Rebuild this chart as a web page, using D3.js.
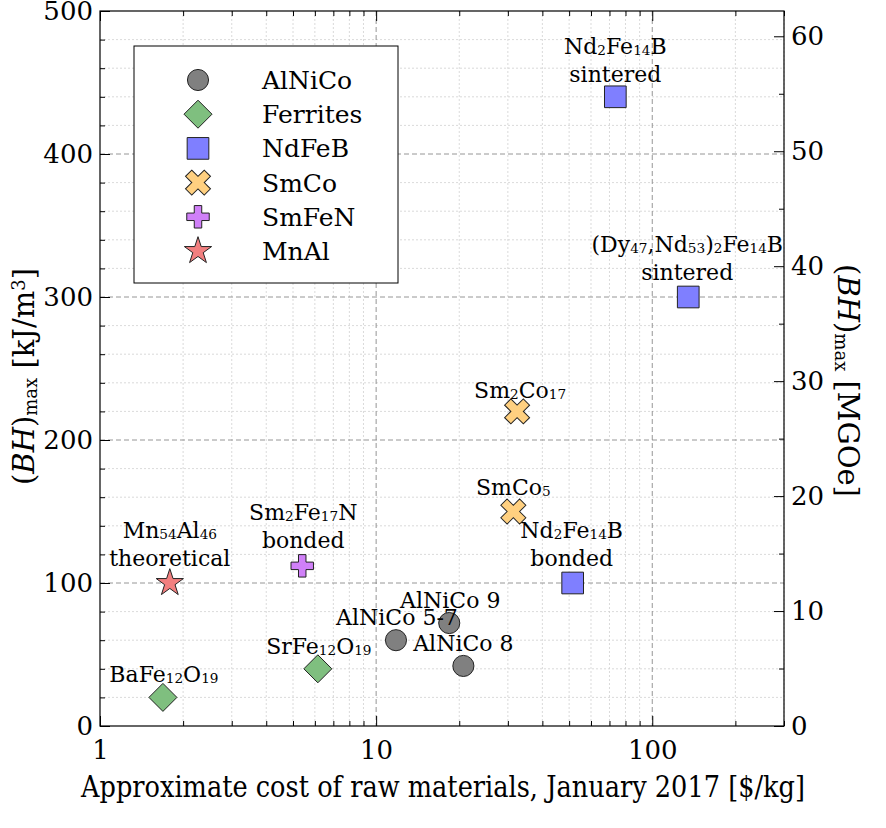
<!DOCTYPE html>
<html>
<head>
<meta charset="utf-8">
<script src="https://cdn.jsdelivr.net/npm/d3@7"></script>
<style>
body { margin: 0; background: #fff; }
text { font-family: "DejaVu Serif", "Liberation Serif", serif; fill: #000; }
</style>
</head>
<body>
<svg id="chart" width="886" height="828"></svg>
<script>
// magnet families (legend order)
const families = ["AlNiCo", "Ferrites", "NdFeB", "SmCo", "SmFeN", "MnAl"];
const familyColors = ["#808080", "#7fbf7f", "#7f7fff", "#ffd080", "#d080f8", "#f27f7f"];
const familySymbols = ["circle", "diamond", "square", "cross", "plus", "star"];

// one entry per material point
const pointNames = ["AlNiCo 5-7", "AlNiCo 9", "AlNiCo 8", "BaFe_{12}O_{19}", "SrFe_{12}O_{19}",
    "Nd_{2}Fe_{14}B|sintered", "(Dy_{47},Nd_{53})_{2}Fe_{14}B|sintered", "Nd_{2}Fe_{14}B|bonded",
    "Sm_{2}Co_{17}", "SmCo_{5}", "Sm_{2}Fe_{17}N|bonded", "Mn_{54}Al_{46}|theoretical"];
const pointFamily = [0, 0, 0, 1, 1, 2, 2, 2, 3, 3, 4, 5];
const pointCost = [11.8, 18.4, 20.7, 1.69, 6.15, 73.5, 135, 51.5, 32.4, 31.4, 5.4, 1.79];
const pointBH = [60, 72, 42, 20, 40, 440, 300, 100, 220, 150, 112, 100];
// label placement relative to marker, px [dx, dy of last baseline]
const labelOffsets = [[1, -15], [1, -15], [0, -15], [1, -15], [1, -15], [0, -15], [-1, -17], [-1, -17],
    [3, -13], [0, -17], [1, -18], [0, -17]];

const xTickValues = [1, 10, 100];
const yTickValues = [0, 100, 200, 300, 400, 500];
const y2TickValues = [0, 10, 20, 30, 40, 50, 60];

const svg = d3.select("#chart");
const margin = {top: 11, right: 102, bottom: 102, left: 100};
const W = 886, H = 828;
const width = W - margin.left - margin.right, height = H - margin.top - margin.bottom;
const g = svg.append("g").attr("transform", `translate(${margin.left},${margin.top})`);

const x = d3.scaleLog().domain([1, 300]).range([0, width]);
const y = d3.scaleLinear().domain([0, 500]).range([height, 0]);
const y2 = d3.scaleLinear().domain([0, 62.2]).range([height, 0]);

// minor tick values
const xMinor = [];
[1, 10, 100].forEach(d => { for (let k = 2; k <= 9; k++) if (d * k <= 300) xMinor.push(d * k); });
const yMinor = d3.range(20, 500, 20).filter(v => v % 100 !== 0);
const y2Minor = d3.range(5, 62, 10);

// grid
const grid = g.append("g");
grid.selectAll(".xm").data(xMinor).join("line")
    .attr("x1", d => x(d)).attr("x2", d => x(d)).attr("y1", 0).attr("y2", height)
    .attr("stroke", "#d0d0d0").attr("stroke-width", 0.8).attr("stroke-dasharray", "2,2");
grid.selectAll(".ym").data(yMinor).join("line")
    .attr("y1", d => y(d)).attr("y2", d => y(d)).attr("x1", 0).attr("x2", width)
    .attr("stroke", "#d0d0d0").attr("stroke-width", 0.8).attr("stroke-dasharray", "2,2");
grid.selectAll(".xM").data([10, 100]).join("line")
    .attr("x1", d => x(d)).attr("x2", d => x(d)).attr("y1", 0).attr("y2", height)
    .attr("stroke", "#8a8a8a").attr("stroke-width", 0.9).attr("stroke-dasharray", "5,3");
grid.selectAll(".yM").data([100, 200, 300, 400]).join("line")
    .attr("y1", d => y(d)).attr("y2", d => y(d)).attr("x1", 0).attr("x2", width)
    .attr("stroke", "#8a8a8a").attr("stroke-width", 0.9).attr("stroke-dasharray", "5,3");

// axes, ticks pointing inward
const fs = 26;
const gx = g.append("g").attr("transform", `translate(0,${height})`)
    .call(d3.axisBottom(x).tickValues(xTickValues).tickFormat(d3.format("d")).tickSize(-10));
const gxm = g.append("g").attr("transform", `translate(0,${height})`)
    .call(d3.axisBottom(x).tickValues(xMinor).tickFormat("").tickSize(-5));
const gxt = g.append("g")
    .call(d3.axisTop(x).tickValues(xTickValues).tickFormat("").tickSize(-10));
const gxtm = g.append("g")
    .call(d3.axisTop(x).tickValues(xMinor).tickFormat("").tickSize(-5));
const gy = g.append("g")
    .call(d3.axisLeft(y).tickValues(yTickValues).tickSize(-10).tickPadding(7));
const gym = g.append("g")
    .call(d3.axisLeft(y).tickValues(yMinor).tickFormat("").tickSize(-5));
const gy2 = g.append("g").attr("transform", `translate(${width},0)`)
    .call(d3.axisRight(y2).tickValues(y2TickValues).tickSize(-10).tickPadding(7));
const gy2m = g.append("g").attr("transform", `translate(${width},0)`)
    .call(d3.axisRight(y2).tickValues(y2Minor).tickFormat("").tickSize(-5));
[gx, gxm, gxt, gxtm, gy, gym, gy2, gy2m].forEach(a => {
    a.select(".domain").remove();
    a.selectAll("line").attr("stroke", "#000").attr("stroke-width", 1);
    a.selectAll("text").attr("font-size", fs).attr("font-family", "DejaVu Serif");
});
gx.selectAll("text").attr("y", 33).attr("dy", 0);

g.append("rect").attr("width", width).attr("height", height)
    .attr("fill", "none").attr("stroke", "#000").attr("stroke-width", 1.2);

// text with _{sub} parts
function richText(sel, str, size) {
    const parts = str.split(/(_\{[^}]*\})/).filter(s => s.length);
    parts.forEach(p => {
        if (p.startsWith("_{")) {
            sel.append("tspan").text(p.slice(2, -1)).attr("font-size", size * 0.62)
                .attr("baseline-shift", "-0.1em");
        } else {
            sel.append("tspan").text(p).attr("font-size", size);
        }
    });
}

// markers
function markerPath(name) {
    if (name === "diamond") {
        const r = 14;
        return `M0,${-r}L${r},0L0,${r}L${-r},0Z`;
    }
    if (name === "cross") return d3.symbol().type(d3.symbolCross).size(390)();
    if (name === "plus") return d3.symbol().type(d3.symbolCross).size(280)();
    if (name === "circle") return d3.symbol().type(d3.symbolCircle).size(350)();
    if (name === "square") return d3.symbol().type(d3.symbolSquare).size(470)();
    return d3.symbol().type(d3.symbolStar).size(230)();
}
function drawMarker(parent, fam, cx, cy) {
    const name = familySymbols[fam];
    parent.append("path").attr("d", markerPath(name))
        .attr("transform", `translate(${cx},${cy})` + (name === "cross" ? " rotate(45)" : ""))
        .attr("fill", familyColors[fam]).attr("stroke", "#222").attr("stroke-width", 1);
}

const pts = g.append("g");
pointCost.forEach((c, i) => drawMarker(pts, pointFamily[i], x(c), y(pointBH[i])));

// point labels
const lfs = 22;
const labels = g.append("g");
pointNames.forEach((nm, i) => {
    const lines = nm.split("|");
    const cx = x(pointCost[i]) + labelOffsets[i][0];
    const base = y(pointBH[i]) + labelOffsets[i][1];
    lines.forEach((ln, j) => {
        const t = labels.append("text").attr("x", cx)
            .attr("y", base - (lines.length - 1 - j) * 28)
            .attr("text-anchor", "middle");
        richText(t, ln, lfs);
    });
});

// legend
const leg = svg.append("g").attr("transform", "translate(134,46)");
leg.append("rect").attr("width", 264).attr("height", 237)
    .attr("fill", "#fff").attr("stroke", "#000").attr("stroke-width", 1);
families.forEach((f, i) => {
    const ly = 34 + i * 34.2;
    drawMarker(leg, i, 64, ly);
    leg.append("text").attr("x", 128).attr("y", ly).attr("dy", "0.36em")
        .attr("font-size", 25).text(f);
});

// axis titles
function bhTitle(sel, unit, sup) {
    sel.append("tspan").text("(");
    sel.append("tspan").text("BH").attr("font-style", "italic");
    sel.append("tspan").text(")");
    sel.append("tspan").text("max").attr("font-size", 18).attr("baseline-shift", "-0.15em");
    sel.append("tspan").text(unit);
    if (sup) {
        sel.append("tspan").text(sup).attr("font-size", 18).attr("baseline-shift", "0.5em");
        sel.append("tspan").text("]");
    }
}
const yl = svg.append("text")
    .attr("transform", `translate(34,${margin.top + height / 2 + 8}) rotate(-90)`)
    .attr("text-anchor", "middle").attr("font-size", 29);
bhTitle(yl, " [kJ/m", "3");

const y2l = svg.append("text")
    .attr("transform", `translate(838,${margin.top + height / 2 + 12}) rotate(90)`)
    .attr("text-anchor", "middle").attr("font-size", 29);
bhTitle(y2l, " [MGOe]", null);

svg.append("text").attr("x", 81).attr("y", 797)
    .attr("font-family", "Liberation Serif").attr("font-size", 30)
    .attr("textLength", 724).attr("lengthAdjust", "spacingAndGlyphs")
    .text("Approximate cost of raw materials, January 2017 [$/kg]");
</script>
</body>
</html>
